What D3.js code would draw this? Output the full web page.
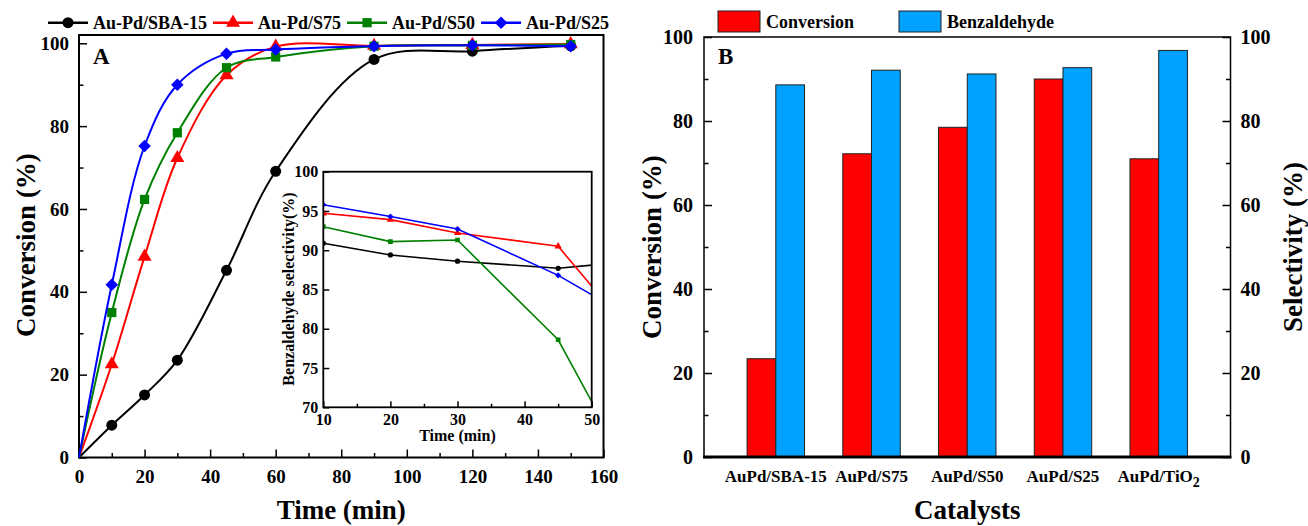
<!DOCTYPE html>
<html>
<head>
<meta charset="utf-8">
<title>Au-Pd catalysts: conversion and selectivity</title>
<script src="https://cdn.jsdelivr.net/npm/d3@7"></script>
<style>
  body { margin: 0; background: #fff; }
  svg { font-family: "Liberation Serif", "Times New Roman", serif; font-weight: bold; }
  .axis path.domain { display: none; }
  .axis line { stroke: #000; stroke-width: 1.5; }
  .axis text { fill: #000; }
</style>
</head>
<body>
<script>
// panel A: conversion vs time
var times = [0, 10, 20, 30, 45, 60, 90, 120, 150];
var convSBA15 = [0, 7.8, 15.1, 23.5, 45.2, 69.1, 96.1, 98.1, 99.4];
var convS75 = [0, 22.5, 48.5, 72.3, 92.3, 99.2, 99.4, 99.6, 99.8];
var convS50 = [0, 35.0, 62.3, 78.4, 94.1, 96.7, 99.3, 99.5, 99.7];
var convS25 = [0, 41.7, 75.2, 90.0, 97.5, 98.5, 99.3, 99.5, 99.3];
var timeTicks = [0, 20, 40, 60, 80, 100, 120, 140, 160];
var convTicks = [0, 20, 40, 60, 80, 100];

// inset: benzaldehyde selectivity vs time
var selTimes = [10, 20, 30, 45, 60];
var selSBA15 = [90.9, 89.4, 88.6, 87.7, 88.9];
var selS75 = [94.7, 93.9, 92.2, 90.5, 75.3];
var selS50 = [93.0, 91.1, 91.3, 78.6, 55.0];
var selS25 = [95.8, 94.3, 92.7, 86.8, 79.4];
var insetXTicks = [10, 20, 30, 40, 50];
var insetYTicks = [70, 75, 80, 85, 90, 95, 100];

// panel B: bars
var catalysts = ['AuPd/SBA-15', 'AuPd/S75', 'AuPd/S50', 'AuPd/S25', 'AuPd/TiO2'];
var barConversion = [23.4, 72.2, 78.5, 90.0, 71.0];
var barSelectivity = [88.6, 92.1, 91.2, 92.7, 96.8];
var pctTicks = [0, 20, 40, 60, 80, 100];

var series = [
  { name: 'Au-Pd/SBA-15', conv: convSBA15, sel: selSBA15, color: '#000000', sym: d3.symbolCircle, size: 95, small: 22 },
  { name: 'Au-Pd/S75', conv: convS75, sel: selS75, color: '#ff0000', sym: d3.symbolTriangle, size: 85, small: 24 },
  { name: 'Au-Pd/S50', conv: convS50, sel: selS50, color: '#008000', sym: d3.symbolSquare, size: 85, small: 22 },
  { name: 'Au-Pd/S25', conv: convS25, sel: selS25, color: '#0000ff', sym: d3.symbolDiamond2, size: 100, small: 24 }
];

var FONT = '"Liberation Serif", "Times New Roman", serif';

var svg = d3.select('body').append('svg')
  .attr('width', 1308)
  .attr('height', 526);

// helper for inward ticks
function inAxis(g, axis, values, minors, size, msize, fs, pad) {
  g.attr('class', 'axis').call(axis.tickValues(values).tickSize(-size).tickSizeOuter(0).tickPadding(pad));
  g.attr('font-family', FONT).attr('font-size', fs).attr('font-weight', 'bold');
  g.selectAll('text').style('font-family', FONT).style('font-size', fs + 'px').style('font-weight', 'bold');
  if (minors) {
    g.append('g').attr('class', 'axis')
      .call(axis.tickValues(minors).tickSize(-msize).tickFormat(''));
  }
}

// ---------- Panel A ----------
var xA = d3.scaleLinear().domain([0, 160]).range([79, 603.5]);
var yA = d3.scaleLinear().domain([0, 102]).range([457.5, 35]);

var gA = svg.append('g');

inAxis(gA.append('g').attr('transform', 'translate(0,457.5)'), d3.axisBottom(xA),
  timeTicks, d3.range(10, 160, 20), 8, 4.5, 19, 12);
inAxis(gA.append('g').attr('transform', 'translate(79,0)'), d3.axisLeft(yA),
  convTicks, d3.range(10, 100, 20), 8, 4.5, 19, 10);

gA.append('rect')
  .attr('x', 79).attr('y', 35)
  .attr('width', 603.5 - 79).attr('height', 457.5 - 35)
  .attr('fill', 'none').attr('stroke', '#000').attr('stroke-width', 2);

var lineA = d3.line()
  .x(function(d) { return xA(d[0]); })
  .y(function(d) { return yA(d[1]); })
  .curve(d3.curveCatmullRom.alpha(0.5));

series.forEach(function(s) {
  var pts = times.map(function(t, i) { return [t, s.conv[i]]; });
  gA.append('path')
    .attr('d', lineA(pts))
    .attr('fill', 'none')
    .attr('stroke', s.color)
    .attr('stroke-width', 2);
  gA.selectAll(null)
    .data(pts.slice(1))
    .enter()
    .append('path')
    .attr('transform', function(d) { return 'translate(' + xA(d[0]) + ',' + yA(d[1]) + ')'; })
    .attr('d', d3.symbol().type(s.sym).size(s.size))
    .attr('fill', s.color);
});

gA.append('text').attr('x', 93).attr('y', 64)
  .style('font-size', '23px').text('A');

gA.append('text')
  .attr('transform', 'translate(35,245) rotate(-90)')
  .attr('text-anchor', 'middle')
  .style('font-size', '27px')
  .text('Conversion (%)');

gA.append('text')
  .attr('x', (79 + 603.5) / 2).attr('y', 519)
  .attr('text-anchor', 'middle')
  .style('font-size', '27px')
  .text('Time (min)');

// legend A
var lx = 48;
series.forEach(function(s) {
  var lg = svg.append('g');
  lg.append('line')
    .attr('x1', lx).attr('x2', lx + 40)
    .attr('y1', 22.7).attr('y2', 22.7)
    .attr('stroke', s.color).attr('stroke-width', 2.5);
  lg.append('path')
    .attr('transform', 'translate(' + (lx + 20) + ',22.7)')
    .attr('d', d3.symbol().type(s.sym).size(s.size))
    .attr('fill', s.color);
  var t = lg.append('text')
    .attr('x', lx + 45).attr('y', 29)
    .style('font-size', '18px')
    .text(s.name);
  lx = lx + 45 + t.node().getComputedTextLength() + 6;
});

// ---------- Inset ----------
var xI = d3.scaleLinear().domain([10, 50]).range([323.3, 591.7]);
var yI = d3.scaleLinear().domain([70, 100]).range([407.3, 171.7]);

var gI = svg.append('g');
gI.append('rect')
  .attr('x', 323.3).attr('y', 171.7)
  .attr('width', 591.7 - 323.3).attr('height', 407.3 - 171.7)
  .attr('fill', '#fff');

gI.append('clipPath').attr('id', 'insetClip')
  .append('rect')
  .attr('x', 323.3).attr('y', 171.7)
  .attr('width', 591.7 - 323.3).attr('height', 407.3 - 171.7);

inAxis(gI.append('g').attr('transform', 'translate(0,407.3)'), d3.axisBottom(xI),
  insetXTicks, [15, 25, 35, 45], 6, 3.5, 16, 6);
inAxis(gI.append('g').attr('transform', 'translate(323.3,0)'), d3.axisLeft(yI),
  insetYTicks, null, 6, 3, 16, 5);

var lineI = d3.line()
  .x(function(d) { return xI(d[0]); })
  .y(function(d) { return yI(d[1]); });

var plotI = gI.append('g').attr('clip-path', 'url(#insetClip)');
series.forEach(function(s) {
  var pts = selTimes.map(function(t, i) { return [t, s.sel[i]]; });
  plotI.append('path')
    .attr('d', lineI(pts))
    .attr('fill', 'none')
    .attr('stroke', s.color)
    .attr('stroke-width', 1.6);
  plotI.selectAll(null)
    .data(pts)
    .enter()
    .append('path')
    .attr('transform', function(d) { return 'translate(' + xI(d[0]) + ',' + yI(d[1]) + ')'; })
    .attr('d', d3.symbol().type(s.sym).size(s.small))
    .attr('fill', s.color);
});

gI.append('rect')
  .attr('x', 323.3).attr('y', 171.7)
  .attr('width', 591.7 - 323.3).attr('height', 407.3 - 171.7)
  .attr('fill', 'none').attr('stroke', '#000').attr('stroke-width', 1.8);

gI.append('text')
  .attr('transform', 'translate(294,289) rotate(-90)')
  .attr('text-anchor', 'middle')
  .style('font-size', '16px')
  .text('Benzaldehyde selectivity(%)');

gI.append('text')
  .attr('x', 457.5).attr('y', 441)
  .attr('text-anchor', 'middle')
  .style('font-size', '16px')
  .text('Time (min)');

// ---------- Panel B ----------
var xB = d3.scaleLinear().domain([0.25, 5.75]).range([704, 1230.5]);
var yB = d3.scaleLinear().domain([0, 100]).range([457, 37]);
var barW = 0.3;

var gB = svg.append('g');

inAxis(gB.append('g').attr('transform', 'translate(704,0)'), d3.axisLeft(yB),
  pctTicks, d3.range(10, 100, 20), 8, 4.5, 20, 11);
inAxis(gB.append('g').attr('transform', 'translate(1230.5,0)'), d3.axisRight(yB),
  pctTicks, d3.range(10, 100, 20), 8, 4.5, 20, 10);

gB.selectAll('rect.conv')
  .data(barConversion)
  .enter()
  .append('rect')
  .attr('class', 'conv')
  .attr('x', function(d, i) { return xB(i + 1 - barW); })
  .attr('y', function(d) { return yB(d); })
  .attr('width', xB(barW) - xB(0))
  .attr('height', function(d) { return yB(0) - yB(d); })
  .attr('fill', '#ff0000')
  .attr('stroke', '#222')
  .attr('stroke-width', 1);

gB.selectAll('rect.sel')
  .data(barSelectivity)
  .enter()
  .append('rect')
  .attr('class', 'sel')
  .attr('x', function(d, i) { return xB(i + 1); })
  .attr('y', function(d) { return yB(d); })
  .attr('width', xB(barW) - xB(0))
  .attr('height', function(d) { return yB(0) - yB(d); })
  .attr('fill', '#00a2ff')
  .attr('stroke', '#222')
  .attr('stroke-width', 1);

gB.append('rect')
  .attr('x', 704).attr('y', 37)
  .attr('width', 1230.5 - 704).attr('height', 457 - 37)
  .attr('fill', 'none').attr('stroke', '#000').attr('stroke-width', 1.5);
gB.append('line')
  .attr('x1', 703).attr('x2', 1231.5)
  .attr('y1', 457).attr('y2', 457)
  .attr('stroke', '#000').attr('stroke-width', 3);

// category labels
gB.selectAll('text.cat')
  .data(catalysts)
  .enter()
  .append('text')
  .attr('class', 'cat')
  .attr('x', function(d, i) { return xB(i + 1); })
  .attr('y', 482)
  .attr('text-anchor', 'middle')
  .style('font-size', '17px')
  .each(function(d) {
    var m = d.match(/^(.*O)(2)$/);
    var el = d3.select(this);
    if (m) {
      el.append('tspan').text(m[1]);
      el.append('tspan').attr('dy', 5).style('font-size', '14px').text(m[2]);
    } else {
      el.text(d);
    }
  });

gB.append('text').attr('x', 718).attr('y', 64)
  .style('font-size', '23px').text('B');

gB.append('text')
  .attr('transform', 'translate(661,247) rotate(-90)')
  .attr('text-anchor', 'middle')
  .style('font-size', '27px')
  .text('Conversion (%)');

gB.append('text')
  .attr('transform', 'translate(1302,247) rotate(-90)')
  .attr('text-anchor', 'middle')
  .style('font-size', '27px')
  .text('Selectivity (%)');

gB.append('text')
  .attr('x', (704 + 1230.5) / 2).attr('y', 519)
  .attr('text-anchor', 'middle')
  .style('font-size', '27px')
  .text('Catalysts');

// legend B
var legB = [
  { label: 'Conversion', color: '#ff0000', x: 718 },
  { label: 'Benzaldehyde', color: '#00a2ff', x: 899 }
];
legB.forEach(function(l) {
  svg.append('rect')
    .attr('x', l.x).attr('y', 11)
    .attr('width', 42).attr('height', 21)
    .attr('fill', l.color).attr('stroke', '#222').attr('stroke-width', 1);
  svg.append('text')
    .attr('x', l.x + 48).attr('y', 28)
    .style('font-size', '18px')
    .text(l.label);
});
</script>
</body>
</html>
